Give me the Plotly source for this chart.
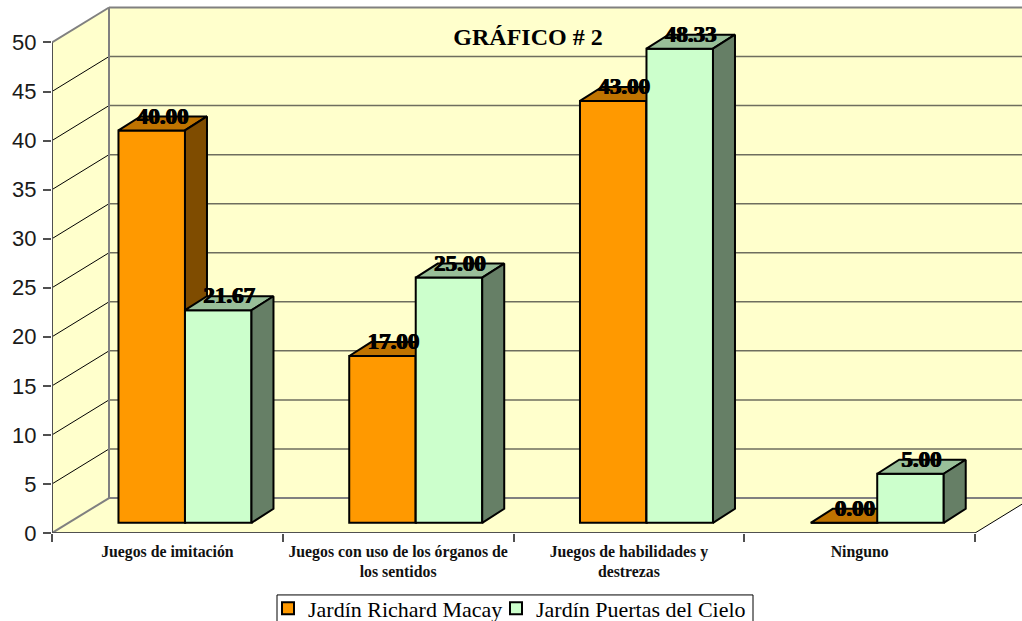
import plotly.graph_objects as go

categories = ["Juegos de imitación", "Juegos con uso de los órganos de<br>los sentidos",
              "Juegos de habilidades y<br>destrezas", "Ninguno"]
richard = [40.00, 17.00, 43.00, 0.00]
puertas = [21.67, 25.00, 48.33, 5.00]
series_names = ["Jardín Richard Macay", "Jardín Puertas del Cielo"]
y_ticks = [0, 5, 10, 15, 20, 25, 30, 35, 40, 45, 50]
title_text = "<b>GRÁFICO # 2</b>"

W, H = 1022, 621
L, B = 52, 87.5
PX_X = 230.75              # pixels per category
PX_Y = 9.82                # pixels per value unit
px = lambda v: v / PX_X
py = lambda v: v / PX_Y
X_MAX = (W - L) / PX_X
Y_MAX = (H - B) / PX_Y

WALL_DX, WALL_DY = px(57), py(35)
FRONT_DX, FRONT_DY = px(17.6), py(10.2)
BAR_DX, BAR_DY = px(22), py(14)
BAR_W = px(66.5)
LAB_DX, LAB_DY = px(11), py(12.5)

WALL = "#FFFFCC"
GRAY = "#808080"
DARK = "#505050"
SERIF = "Liberation Serif"
fig = go.Figure()

# walls and floor
shapes = []
def poly(pts, fill, lw=0, col=None):
    path = "M" + " L".join(f"{x},{y}" for x, y in pts) + " Z"
    shapes.append(dict(type="path", path=path, xref="x", yref="y", fillcolor=fill, layer="below",
                       line=dict(width=lw, color=col or fill)))
def seg(x0, y0, x1, y1, col, w):
    shapes.append(dict(type="line", x0=x0, y0=y0, x1=x1, y1=y1, xref="x", yref="y", layer="below",
                       line=dict(color=col, width=w)))

ytop = y_ticks[-1]
n = len(categories)
poly([(0, 0), (WALL_DX, WALL_DY), (WALL_DX, ytop + WALL_DY), (0, ytop)], WALL)
poly([(WALL_DX, WALL_DY), (X_MAX + 1, WALL_DY), (X_MAX + 1, ytop + WALL_DY), (WALL_DX, ytop + WALL_DY)], WALL)
poly([(0, 0), (n, 0), (n + WALL_DX, WALL_DY), (WALL_DX, WALL_DY)], WALL)
for t in y_ticks:
    edge = t in (y_ticks[0], y_ticks[-1])
    seg(WALL_DX, t + WALL_DY, X_MAX + 1, t + WALL_DY, GRAY if edge else "#6e6e5e", 2 if edge else 1.5)
    seg(0, t, WALL_DX, t + WALL_DY, GRAY if edge else "#000000", 2 if edge else 1)
seg(WALL_DX, WALL_DY, WALL_DX, ytop + WALL_DY, GRAY, 2)
seg(n, 0, n + WALL_DX, WALL_DY, "#000000", 1)
# legend frame
shapes.append(dict(type="rect", xref="paper", yref="paper", x0=(277 - L) / (W - L), x1=(753 - L) / (W - L),
                   y0=(H - B - 630) / (H - B), y1=(H - B - 595.5) / (H - B), fillcolor="white",
                   line=dict(color="black", width=1), layer="below"))

def axis_line(xs, ys):
    fig.add_trace(go.Scatter(x=xs, y=ys, mode="lines", cliponaxis=False, showlegend=False, hoverinfo="skip",
                             line=dict(color=DARK, width=2)))
axis_line([0, 0], [0, ytop])
axis_line([0, n], [0, 0])

def add_series(values, name, front, top, side, xa, ya, slot, legend_id):
    xs = []
    for i, v in enumerate(values):
        left = i + 0.5 + FRONT_DX + (slot - 1) * BAR_W
        xs.append(left + BAR_W / 2)
        t = v + FRONT_DY
        right = left + BAR_W
        fig.add_trace(go.Scatter(x=[left, right, right + BAR_DX, left + BAR_DX, left],
                                 y=[t, t, t + BAR_DY, t + BAR_DY, t], fill="toself", fillcolor=top, mode="lines",
                                 line=dict(color="black", width=2), showlegend=False, hoverinfo="skip",
                                 xaxis=xa, yaxis=ya))
        fig.add_trace(go.Scatter(x=[right, right + BAR_DX, right + BAR_DX, right, right],
                                 y=[FRONT_DY, FRONT_DY + BAR_DY, t + BAR_DY, t, FRONT_DY], fill="toself",
                                 fillcolor=side, mode="lines", line=dict(color="black", width=2),
                                 showlegend=False, hoverinfo="skip", xaxis=xa, yaxis=ya))
    fig.add_trace(go.Bar(x=xs, y=values, base=[FRONT_DY] * len(values), width=BAR_W, name=name, legend=legend_id,
                         showlegend=True, marker=dict(color=front, line=dict(color="black", width=2)),
                         xaxis=xa, yaxis=ya))
    return xs

xs1 = add_series(richard, series_names[0], "#FF9900", "#BF7300", "#7F4C00", "x", "y", 0, "legend")
xs2 = add_series(puertas, series_names[1], "#CCFFCC", "#99BF99", "#667F66", "x2", "y2", 1, "legend2")

# value labels
lx, ly, lt = [], [], []
for xs, vals in ((xs1, richard), (xs2, puertas)):
    for x, v in zip(xs, vals):
        lx.append(x + LAB_DX); ly.append(v + FRONT_DY + LAB_DY); lt.append(f"<b>{v:.2f}</b>")
fig.add_trace(go.Scatter(x=lx, y=ly, text=lt, mode="text", textposition="middle center", cliponaxis=False,
                         textfont=dict(family=SERIF, size=23, color="black", shadow="0.6px 0 0 #000, -0.6px 0 0 #000"),
                         showlegend=False, hoverinfo="skip", xaxis="x2", yaxis="y2"))

def legend_at(left_px):
    return dict(orientation="h", x=(left_px - L) / (W - L), y=(533.5 - 588) / 533.5, xanchor="left", yanchor="top",
                borderwidth=0, bgcolor="rgba(0,0,0,0)", itemwidth=30,
                font=dict(family=SERIF, size=22, color="black"))

fig.update_layout(
    width=W, height=H, autosize=False, paper_bgcolor="white", plot_bgcolor="white",
    margin=dict(l=L, r=0, t=0, b=B, pad=0, autoexpand=False), barmode="overlay", shapes=shapes,
    title=dict(text=title_text, x=528 / W, y=1 - 37 / H, xanchor="center", yanchor="middle",
               font=dict(family=SERIF, size=24, color="black")),
    xaxis=dict(range=[0, X_MAX], showgrid=False, zeroline=False, showline=False, automargin=False,
               tickmode="array", tickvals=[i + 0.5 for i in range(n)], ticktext=categories, ticks="", ticklen=12,
               ticklabelstandoff=7,
               tickfont=dict(family=SERIF, size=15.8, color="#111111", weight=700),
               minor=dict(tickmode="array", tickvals=list(range(n + 1)), ticks="outside", ticklen=8, tickwidth=1.5,
                          tickcolor=DARK, showgrid=False)),
    yaxis=dict(range=[0, Y_MAX], showgrid=False, zeroline=False, showline=False, automargin=False,
               tickmode="array", tickvals=y_ticks, ticks="outside", ticklen=8, tickwidth=1.5, tickcolor=DARK,
               ticklabelstandoff=2,
               tickfont=dict(family="Liberation Sans", size=22, color="#1a1a1a")),
    xaxis2=dict(range=[0, X_MAX], overlaying="x", visible=False),
    yaxis2=dict(range=[0, Y_MAX], overlaying="y", visible=False),
    legend=legend_at(268),
    legend2=legend_at(496),
    showlegend=True,
)
fig.write_html("out.html", config={"displayModeBar": False}, post_script="document.body.style.margin='0';")
